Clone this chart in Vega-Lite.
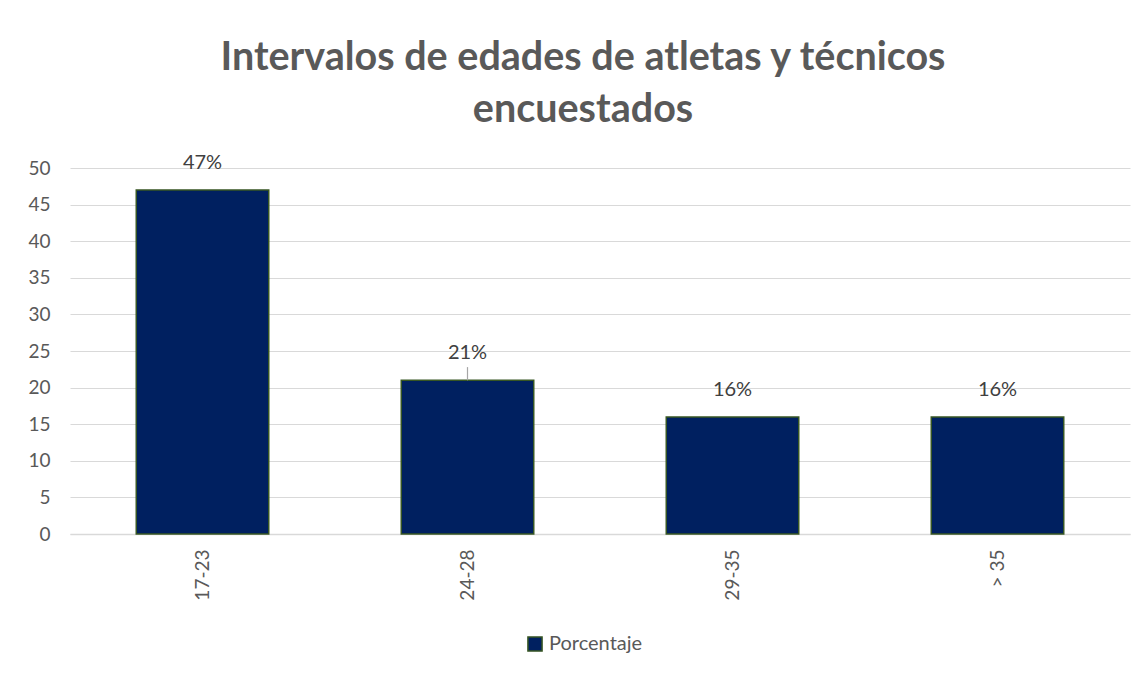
{
  "$schema": "https://vega.github.io/schema/vega-lite/v6.json",
  "autosize": {"type": "none"},
  "width": 1060,
  "height": 366,
  "padding": {"left": 70, "top": 168, "right": 18, "bottom": 142},
  "background": "white",
  "config": {"view": {"stroke": null}},
  "data": {
    "values": [
      {"intervalo": "17-23", "valor": 47, "etiqueta": "47%", "serie": "Porcentaje"},
      {"intervalo": "24-28", "valor": 21, "etiqueta": "21%", "serie": "Porcentaje"},
      {"intervalo": "29-35", "valor": 16, "etiqueta": "16%", "serie": "Porcentaje"},
      {"intervalo": "> 35", "valor": 16, "etiqueta": "16%", "serie": "Porcentaje"}
    ]
  },
  "title": {
    "text": ["Intervalos de edades de atletas y técnicos", "encuestados"],
    "font": "Lato",
    "fontSize": 39.5,
    "fontWeight": "bold",
    "color": "#595959",
    "lineHeight": 52,
    "anchor": "middle",
    "frame": "group",
    "dx": -17,
    "offset": 22
  },
  "encoding": {
    "x": {
      "field": "intervalo",
      "type": "nominal",
      "sort": null,
      "scale": {"paddingInner": 0.5, "paddingOuter": 0.25},
      "axis": {
        "title": null,
        "labelAngle": -90,
        "labelFont": "Lato",
        "labelFontSize": 19,
        "labelColor": "#595959",
        "labelPadding": 15,
        "ticks": false,
        "domainColor": "#d9d9d9",
        "domainWidth": 1.5,
        "grid": false
      }
    },
    "y": {
      "field": "valor",
      "type": "quantitative",
      "scale": {"domain": [0, 50]},
      "axis": {
        "title": null,
        "values": [0, 5, 10, 15, 20, 25, 30, 35, 40, 45, 50],
        "labelOverlap": false,
        "labelFont": "Lato",
        "labelFontSize": 19,
        "labelColor": "#595959",
        "labelPadding": 20,
        "ticks": false,
        "domain": false,
        "gridColor": "#d9d9d9",
        "gridWidth": 1.2
      }
    }
  },
  "layer": [
    {
      "mark": {"type": "bar", "stroke": "#375623", "strokeWidth": 1.5},
      "encoding": {
        "color": {
          "field": "serie",
          "type": "nominal",
          "scale": {"range": ["#002060"]},
          "legend": {
            "title": null,
            "orient": "none",
            "legendX": 455,
            "legendY": 466,
            "symbolType": "square",
            "symbolSize": 200,
            "symbolStrokeColor": "#375623",
            "symbolStrokeWidth": 1.5,
            "labelFont": "Lato",
            "labelFontSize": 20,
            "labelColor": "#595959",
            "labelOffset": 4
          }
        }
      }
    },
    {
      "transform": [{"filter": "datum.intervalo === '24-28'"}],
      "mark": {"type": "rule", "color": "#a6a6a6", "strokeWidth": 1.2},
      "encoding": {
        "y2": {"datum": 22.8}
      }
    },
    {
      "mark": {"type": "text", "baseline": "bottom", "dy": -17, "font": "Lato", "fontSize": 20, "color": "#404040"},
      "encoding": {
        "text": {"field": "etiqueta"}
      }
    }
  ]
}
